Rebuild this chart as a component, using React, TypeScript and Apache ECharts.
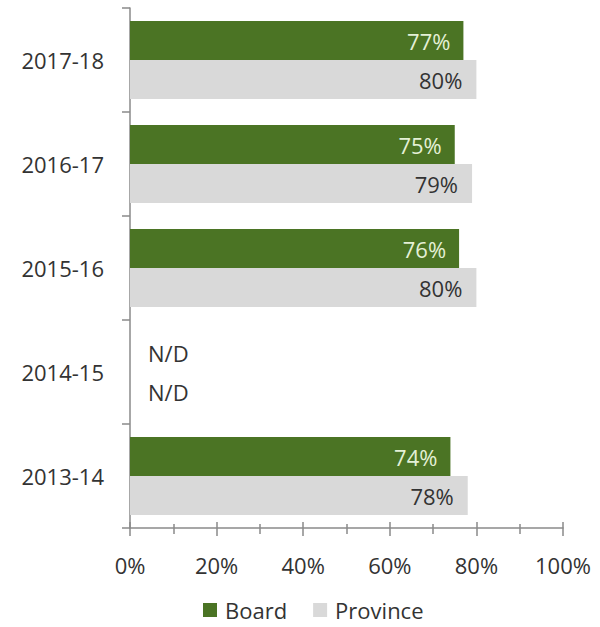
import React, { useEffect, useRef } from "react";
import * as echarts from "echarts";

const categories = ["2013-14", "2014-15", "2015-16", "2016-17", "2017-18"];
const boardValues: (number | null)[] = [74, null, 76, 75, 77];
const provinceValues: (number | null)[] = [78, null, 80, 79, 80];
const xTicks = [0, 20, 40, 60, 80, 100];

const FONT = "'Open Sans', sans-serif";
const TEXT = "#333333";
const AXIS = "#8a8a8a";
const FS = 22;

function toData(vals: (number | null)[]) {
  return vals.map((v) =>
    v === null
      ? {
          value: 0,
          label: {
            show: true,
            position: "right",
            distance: 18,
            formatter: "N/D",
            color: TEXT,
          },
        }
      : { value: v }
  );
}

export default function App() {
  const ref = useRef<HTMLDivElement>(null);
  useEffect(() => {
    if (!ref.current) return;
    const chart = echarts.init(ref.current, null, { renderer: "svg" });
    chart.setOption({
      animation: false,
      textStyle: { fontFamily: FONT },
      grid: { left: 130, right: 37, top: 8, bottom: 99, containLabel: false },
      legend: {
        data: ["Board", "Province"],
        left: 203,
        top: 599,
        padding: 0,
        icon: "rect",
        itemWidth: 14,
        itemHeight: 14,
        itemGap: 26,
        textStyle: { fontFamily: FONT, fontSize: FS, color: TEXT, padding: [0, 0, 0, 3] },
      },
      xAxis: [
        {
          type: "value",
          min: 0,
          max: 100,
          interval: 20,
          position: "bottom",
          axisLine: { show: true, lineStyle: { color: AXIS, width: 1.5 } },
          axisTick: { show: true, length: 8, lineStyle: { color: AXIS, width: 1.5 } },
          minorTick: { show: true, splitNumber: 2, length: 6, lineStyle: { color: AXIS, width: 1.5 } },
          splitLine: { show: false },
          axisLabel: {
            margin: 26,
            fontSize: FS,
            fontFamily: FONT,
            color: TEXT,
            formatter: (v: number) => (xTicks.includes(v) ? v + "%" : ""),
          },
        },
        {
          type: "value",
          min: 0,
          max: 100,
          interval: 20,
          position: "bottom",
          axisLine: { show: false },
          axisTick: { show: true, inside: true, length: 6, lineStyle: { color: AXIS, width: 1.5 } },
          minorTick: { show: true, splitNumber: 2, length: 4, lineStyle: { color: AXIS, width: 1.5 } },
          splitLine: { show: false },
          axisLabel: { show: false },
        },
      ],
      yAxis: {
        type: "category",
        data: categories,
        axisLine: { show: true, lineStyle: { color: AXIS, width: 1.5 } },
        axisTick: { show: true, length: 8, lineStyle: { color: AXIS, width: 1.5 } },
        axisLabel: { margin: 26, fontSize: FS, fontFamily: FONT, color: TEXT },
        splitLine: { show: false },
      },
      series: [
        {
          name: "Board",
          type: "bar",
          xAxisIndex: 0,
          data: toData(boardValues),
          itemStyle: { color: "#4b7424" },
          barGap: "0%",
          barCategoryGap: "25%",
          label: {
            show: true,
            position: "insideRight",
            distance: 13,
            formatter: "{c}%",
            fontSize: FS,
            fontFamily: FONT,
            color: "#e4f0d6",
          },
        },
        {
          name: "Province",
          type: "bar",
          xAxisIndex: 0,
          data: toData(provinceValues),
          itemStyle: { color: "#d9d9d9" },
          barGap: "0%",
          barCategoryGap: "25%",
          label: {
            show: true,
            position: "insideRight",
            distance: 14,
            formatter: "{c}%",
            fontSize: FS,
            fontFamily: FONT,
            color: TEXT,
          },
        },
      ],
    });
    return () => chart.dispose();
  }, []);
  return (
    <div
      ref={ref}
      style={{ position: "absolute", left: 0, top: 0, width: 600, height: 627, background: "#fff" }}
    />
  );
}
